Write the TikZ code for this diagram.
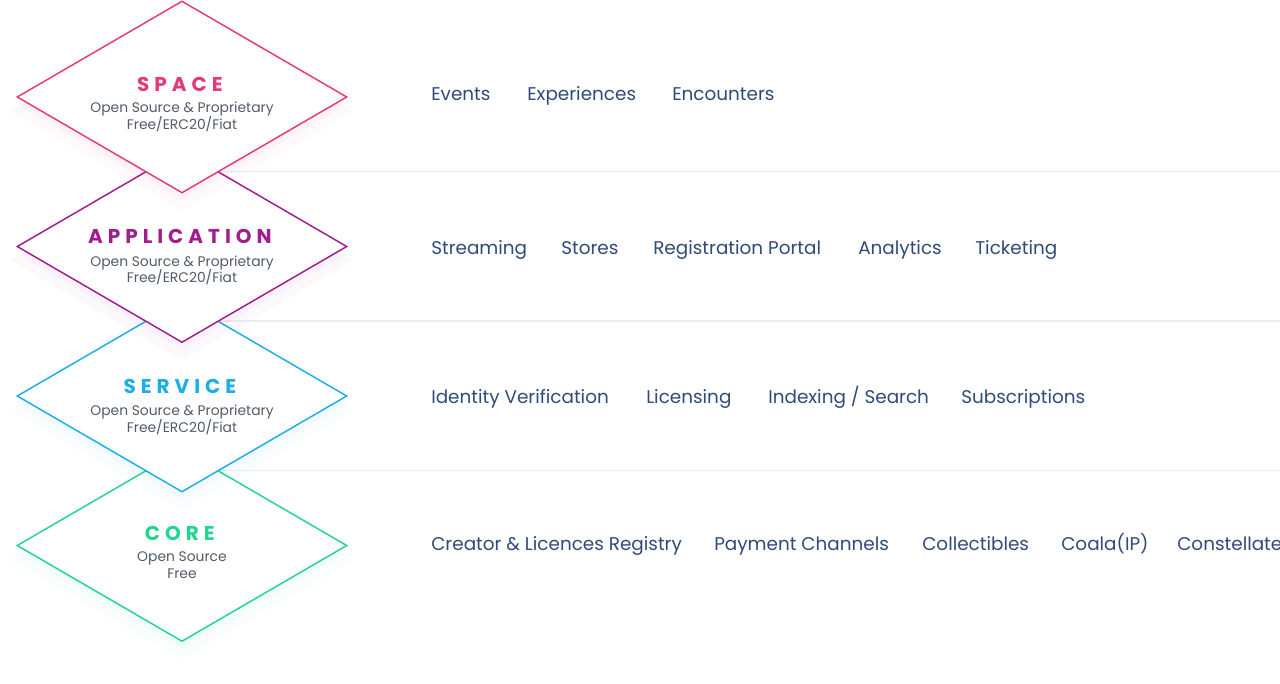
\documentclass[tikz,border=0pt]{standalone}
\usepackage{fontspec}
\setmainfont{Poppins}
\newfontfamily\titlefont[LetterSpace=25]{Poppins}
\usepackage{tikz}
\usetikzlibrary{shapes.geometric,shadows}
\definecolor{spacepink}{HTML}{E8387C}
\definecolor{apppurple}{HTML}{A21C8E}
\definecolor{servblue}{HTML}{1AAEEA}
\definecolor{coregreen}{HTML}{22D68E}
\definecolor{itemink}{HTML}{2F4B78}
\definecolor{subink}{HTML}{525C68}
\definecolor{ruleline}{HTML}{EAEEF2}
\tikzset{
  layer/.style = {diamond, draw=#1, fill=white, line width=1.1pt, inner sep=0pt,
                  minimum width=247.5pt, minimum height=144pt,
                  general shadow={fill=#1, opacity=.025, shadow yshift=-10pt, shadow scale=1.04},
                  general shadow={fill=#1, opacity=.03, shadow yshift=-5pt, shadow scale=1.01}},
  ttl/.style   = {font=\titlefont\bfseries\fontsize{15}{18}\selectfont, text=#1,
                  anchor=base, inner sep=0pt, xshift=-1.6pt},
  sub/.style   = {font=\fontsize{10.4}{12}\selectfont, text=subink, anchor=base, inner sep=0pt},
  item/.style  = {font=\fontsize{13.8}{16}\selectfont, text=itemink, anchor=base west, inner sep=0pt},
  sep/.style   = {draw=ruleline, line width=1.1pt},
}

\begin{document}
\begin{tikzpicture}[x=0.75pt, y=-0.75pt]
  \fill[white] (0,0) rectangle (1280,683);
  \useasboundingbox (0,0) rectangle (1280,683);

  % separators between the layers
  \foreach \y in {171.5,321,470.5}
    \draw[sep] (182,\y) -- (1280,\y);

  % layers, bottom one first so the upper ones cover its tip
  \foreach \name/\lbl/\col/\cy/\tdy/\sdy/\subA/\subB in {%
      core/CORE/coregreen/545.5/-5/16/{Open Source}/{Free},
      service/SERVICE/servblue/396/-3/19.7/{Open Source \& Proprietary}/{Free/ERC20/Fiat},
      app/APPLICATION/apppurple/246.5/-3/19.7/{Open Source \& Proprietary}/{Free/ERC20/Fiat},
      space/SPACE/spacepink/97/-6/15.7/{Open Source \& Proprietary}/{Free/ERC20/Fiat}} {
    \node[layer=\col] (\name) at (182,\cy) {};
    \node[ttl=\col] (\name-title) at (182,\cy+\tdy) {\lbl};
    \node[sub] (\name-subA) at (182,\cy+\sdy) {\subA};
    \node[sub] (\name-subB) at (182,\cy+\sdy+16.6) {\subB};
  }

  % what sits in each layer
  \foreach \r/\yb/\list in {%
      1/100.5/{431/Events,527/Experiences,672/Encounters},
      2/254.5/{431/Streaming,561/Stores,653/Registration Portal,858/Analytics,975/Ticketing},
      3/403.5/{431/Identity Verification,646/Licensing,768/{Indexing / Search},961/Subscriptions},
      4/550.5/{431/Creator \& Licences Registry,714/Payment Channels,922/Collectibles,1061/Coala(IP),1177/Constellate}} {
    \foreach \x/\t in \list
      \node[item] (it-\r-\x) at (\x,\yb) {\t};
  }
\end{tikzpicture}
\end{document}
